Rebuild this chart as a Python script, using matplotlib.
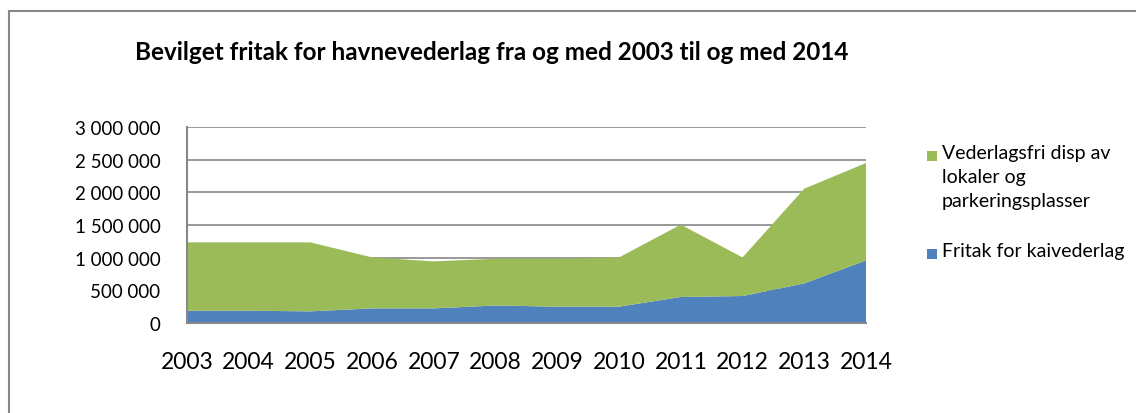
import matplotlib.pyplot as plt
from matplotlib.patches import Rectangle
from matplotlib.ticker import FuncFormatter

years = [2003, 2004, 2005, 2006, 2007, 2008, 2009, 2010, 2011, 2012, 2013, 2014]
kaivederlag = [188000, 188000, 178000, 224000, 224000, 268000, 250000, 250000, 398000, 413000, 606000, 958000]
totals = [1234000, 1234000, 1234000, 1004000, 943000, 984000, 984000, 1004000, 1505000, 1004000, 2056000, 2449000]
lokaler = [t - k for t, k in zip(totals, kaivederlag)]

green = '#9BBB59'
blue = '#4F81BD'

plt.rcParams['font.family'] = ['Lato', 'DejaVu Sans']

W, H = 1136, 414
fig = plt.figure(figsize=(W / 100, H / 100), dpi=100)
# outer frame (right and bottom edges run off the image)
fig.patches.append(Rectangle((9 / W, -0.1), 1.2, 1 - 12 / H + 0.1, transform=fig.transFigure,
                             fill=False, edgecolor='#888888', linewidth=1.5))

ax = fig.add_axes([187 / W, 1 - 324 / H, (866 - 187) / W, 196 / H])
ax.stackplot(years, kaivederlag, lokaler, colors=[blue, green], linewidth=0)

ax.set_xlim(2003, 2014)
ax.set_ylim(0, 3000000)
ax.set_yticks(range(0, 3000001, 500000))
ax.yaxis.set_major_formatter(FuncFormatter(lambda v, p: f'{int(v):,}'.replace(',', ' ')))
ax.set_xticks(years)
ax.set_xticklabels([str(y) for y in years], fontsize=16.5)
ax.tick_params(axis='y', labelsize=13.5, length=0, pad=19)
ax.tick_params(axis='x', length=0, pad=20)
ax.grid(axis='y', color='#888888', linewidth=1.2)
ax.set_axisbelow(True)
for s in ['top', 'right']:
    ax.spines[s].set_visible(False)
for s in ['left', 'bottom']:
    ax.spines[s].set_color('#888888')
    ax.spines[s].set_linewidth(1.5)

fig.text(492 / W, 1 - 52 / H, 'Bevilget fritak for havnevederlag fra og med 2003 til og med 2014',
         ha='center', va='center', fontsize=17.5, fontweight='bold')

# legend drawn by hand so the marker sits on the first line of the wrapped label
legend_items = [(green, 'Vederlagsfri disp av\nlokaler og\nparkeringsplasser', 157),
                (blue, 'Fritak for kaivederlag', 255)]
for color, label, ypix in legend_items:
    fig.patches.append(Rectangle((927 / W, 1 - (ypix + 5) / H), 10 / W, 10 / H,
                                 transform=fig.transFigure, facecolor=color, edgecolor='none'))
    fig.text(942 / W, 1 - (ypix - 12) / H, label, ha='left', va='top', fontsize=14, linespacing=1.5)

fig.savefig('out.png', dpi=100)
